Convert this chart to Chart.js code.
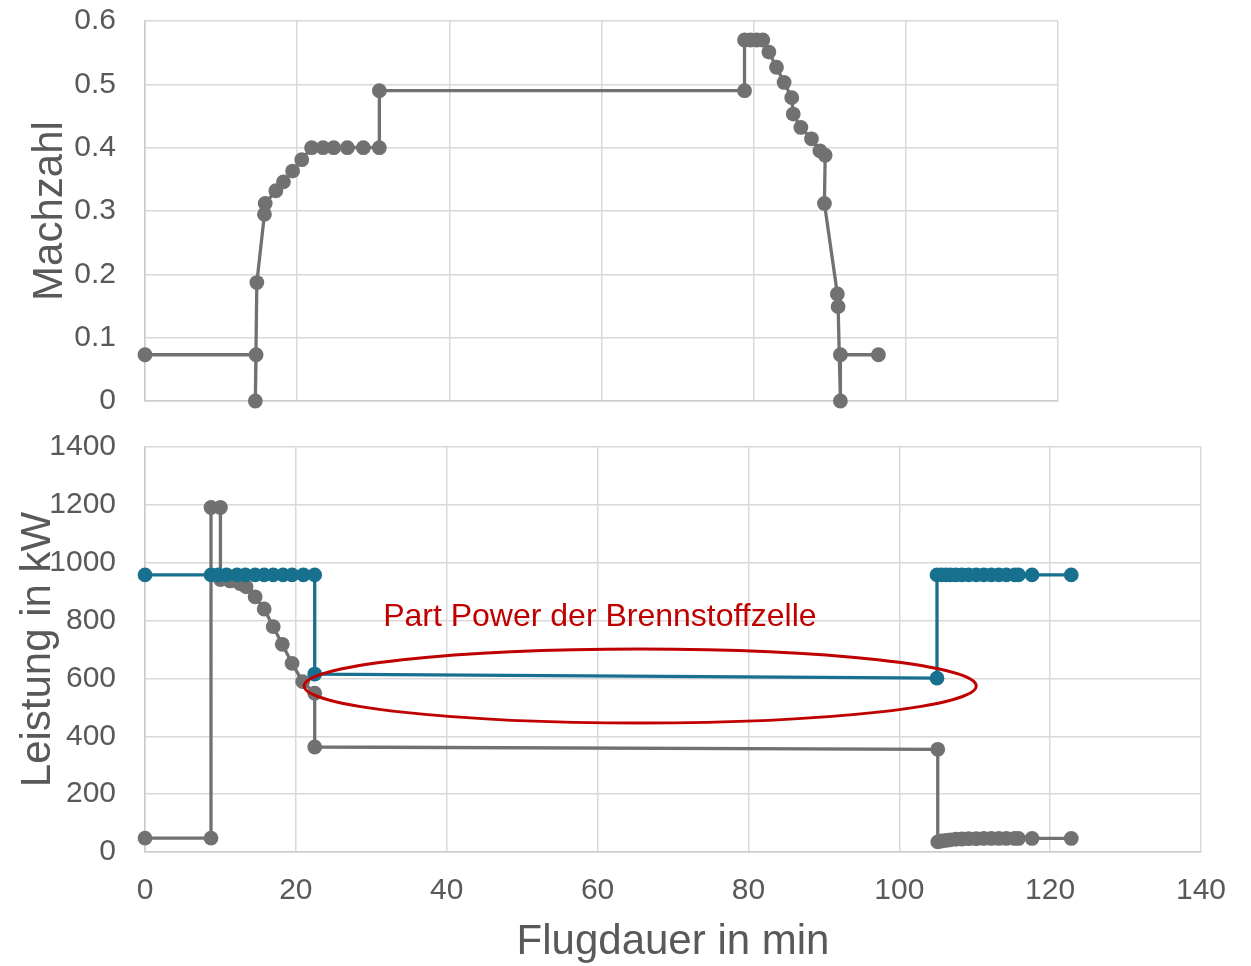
<!DOCTYPE html>
<html>
<head>
<meta charset="utf-8">
<script src="https://cdn.jsdelivr.net/npm/chart.js@4/dist/chart.umd.min.js"></script>
<style>
  html, body { margin: 0; padding: 0; background: #fff; }
  #wrap { position: relative; width: 1251px; height: 966px; overflow: hidden; }
  #wrap canvas { position: absolute; left: 0; top: 0; }
  #wrap #machChart { top: -30px; }
</style>
</head>
<body>
<div id="wrap">
  <canvas id="powerChart" width="1251" height="966"></canvas>
  <canvas id="machChart" width="1251" height="966"></canvas>
</div>
<script>
  // flight profile - mach number over time
  const machTime = [0, 14.6, 14.5, 14.7, 15.7, 15.8, 17.2, 18.2, 19.4, 20.6, 21.9, 23.4, 24.8, 26.6, 28.7, 30.8,
    30.8, 78.8, 78.8, 79.6, 80.4, 81.2, 82.0, 83.0, 84.0, 85.0, 85.2, 86.2, 87.6, 88.7, 89.4, 89.3, 91.0, 91.1,
    91.4, 91.4, 96.4];
  const machValues = [0.073, 0.073, 0, 0.187, 0.295, 0.312, 0.332, 0.346, 0.363, 0.381, 0.400, 0.400, 0.400, 0.400, 0.400, 0.400,
    0.490, 0.490, 0.570, 0.570, 0.570, 0.570, 0.551, 0.527, 0.503, 0.479, 0.453, 0.432, 0.414, 0.395, 0.388, 0.312, 0.169, 0.149,
    0, 0.073, 0.073];

  // total power demand (gray)
  const totalTime = [0, 8.75, 8.75, 10.0, 10.0, 11.3, 12.6, 13.4, 14.6, 15.8, 17.0, 18.2, 19.5, 20.9, 22.5,
    22.5, 105.1, 105.1, 105.6, 106.2, 106.8, 107.5, 108.3, 109.2, 110.2, 111.2, 112.2, 113.2, 114.2, 115.3, 115.8,
    117.6, 122.8];
  const totalPower = [48, 48, 1191, 1191, 942, 937, 928, 917, 882, 840, 779, 718, 652, 589, 549,
    363, 355, 35, 38, 40, 42, 44, 45, 46, 46, 47, 47, 47, 47, 47, 47,
    47, 47];

  // fuel cell power (blue)
  const fcTime = [0, 8.75, 9.7, 10.8, 12.2, 13.3, 14.6, 15.8, 17.0, 18.3, 19.5, 21.0, 22.5,
    22.5, 105.0, 105.0, 105.6, 106.2, 106.8, 107.5, 108.3, 109.2, 110.2, 111.2, 112.2, 113.2, 114.2, 115.3, 115.8,
    117.6, 122.8];
  const fcPower = [958, 958, 958, 958, 958, 958, 958, 958, 958, 958, 958, 958, 958,
    615, 601, 958, 958, 958, 958, 958, 958, 958, 958, 958, 958, 958, 958, 958, 958,
    958, 958];

  // tick labels
  const machTicks = [0, 0.1, 0.2, 0.3, 0.4, 0.5, 0.6];
  const powerTicks = [0, 200, 400, 600, 800, 1000, 1200, 1400];
  const machTimeTicks = [0, 20, 40, 60, 80, 100, 120];
  const powerTimeTicks = [0, 20, 40, 60, 80, 100, 120, 140];

  // annotation (data units)
  const noteText = "Part Power der Brennstoffzelle";
  const noteTextPos = [60.3, 812];
  const noteEllipseX = [21.1, 110.2];
  const noteEllipseY = [446, 702];

  const FONT = "'Liberation Sans', Arial, sans-serif";
  const TEXT_GRAY = "#595959";
  const GRID = "#d9d9d9";
  const GRAY = "#717171";
  const BLUE = "#18708f";
  const RED = "#c00000";

  function toPoints(xs, ys) {
    return xs.map((x, i) => ({ x: x, y: ys[i] }));
  }

  function fixedTicks(list) {
    return axis => {
      axis.ticks = list.map(v => ({ value: v }));
    };
  }

  function lineSet(label, xs, ys, color, order) {
    return {
      label: label,
      data: toPoints(xs, ys),
      showLine: true,
      borderColor: color,
      backgroundColor: color,
      borderWidth: 3.3,
      pointRadius: 7.4,
      pointBorderWidth: 0,
      pointBackgroundColor: color,
      clip: false,
      order: order
    };
  }

  // move the plot area to the wanted pixel rows (canvas coords)
  function pinChartArea(chart, top, bottom) {
    for (let i = 0; i < 4; i++) {
      const area = chart.chartArea;
      const dTop = top - area.top;
      const dBottom = area.bottom - bottom;
      if (Math.abs(dTop) < 0.5 && Math.abs(dBottom) < 0.5) break;
      chart.options.layout.padding.top += dTop;
      chart.options.layout.padding.bottom += dBottom;
      chart.update();
    }
  }

  const partPowerNote = {
    id: "partPowerNote",
    afterDatasetsDraw(chart) {
      const ctx = chart.ctx;
      const x = chart.scales.x;
      const y = chart.scales.y;
      const left = x.getPixelForValue(noteEllipseX[0]);
      const right = x.getPixelForValue(noteEllipseX[1]);
      const top = y.getPixelForValue(noteEllipseY[1]);
      const bottom = y.getPixelForValue(noteEllipseY[0]);

      ctx.save();
      ctx.beginPath();
      ctx.ellipse((left + right) / 2, (top + bottom) / 2, (right - left) / 2, (bottom - top) / 2, 0, 0, Math.PI * 2);
      ctx.strokeStyle = RED;
      ctx.lineWidth = 3;
      ctx.stroke();

      ctx.font = "32px " + FONT;
      ctx.fillStyle = RED;
      ctx.textAlign = "center";
      ctx.textBaseline = "middle";
      ctx.fillText(noteText, x.getPixelForValue(noteTextPos[0]), y.getPixelForValue(noteTextPos[1]));
      ctx.restore();
    }
  };

  const baseOptions = {
    responsive: false,
    animation: false,
    plugins: {
      legend: { display: false },
      tooltip: { enabled: false }
    }
  };

  // top chart - mach number (canvas sits 30px higher)
  const machChart = new Chart(document.getElementById("machChart"), {
    type: "scatter",
    data: {
      datasets: [lineSet("Machzahl", machTime, machValues, GRAY, 0)]
    },
    options: Object.assign({}, baseOptions, {
      layout: { padding: { left: 0, right: 193, top: 51, bottom: 535 } },
      scales: {
        x: {
          type: "linear",
          min: 0,
          max: 120,
          afterBuildTicks: fixedTicks(machTimeTicks),
          ticks: { display: false },
          grid: { color: GRID, lineWidth: 1.5, drawTicks: false },
          border: { color: "#cccccc", width: 1.5 },
          afterFit: axis => { axis.height = 0; }
        },
        y: {
          min: 0,
          max: 0.6,
          afterBuildTicks: fixedTicks(machTicks),
          ticks: {
            padding: 29,
            color: TEXT_GRAY,
            font: { family: FONT, size: 30 },
            callback: v => (v === 0 ? "0" : v.toFixed(1))
          },
          grid: { color: GRID, lineWidth: 1.5, drawTicks: false },
          border: { color: "#cccccc", width: 1.5 },
          title: {
            display: true,
            text: "Machzahl",
            color: TEXT_GRAY,
            font: { family: FONT, size: 42 },
            padding: { top: 25.5, bottom: 0 }
          },
          afterFit: axis => { axis.width = 145; }
        }
      }
    })
  });
  pinChartArea(machChart, 51, 431);

  // bottom chart - power
  const powerChart = new Chart(document.getElementById("powerChart"), {
    type: "scatter",
    data: {
      datasets: [
        lineSet("Brennstoffzelle", fcTime, fcPower, BLUE, 0),
        lineSet("Gesamt", totalTime, totalPower, GRAY, 1)
      ]
    },
    options: Object.assign({}, baseOptions, {
      layout: { padding: { left: 0, right: 50, top: 447, bottom: 0 } },
      scales: {
        x: {
          type: "linear",
          min: 0,
          max: 140,
          afterBuildTicks: fixedTicks(powerTimeTicks),
          ticks: {
            padding: 21,
            color: TEXT_GRAY,
            font: { family: FONT, size: 30 }
          },
          grid: { color: GRID, lineWidth: 1.5, drawTicks: false },
          border: { color: "#cccccc", width: 1.5 },
          title: {
            display: true,
            text: "Flugdauer in min",
            color: TEXT_GRAY,
            font: { family: FONT, size: 42 },
            padding: { top: 0, bottom: -2 }
          },
          afterFit: axis => { axis.height = 114; }
        },
        y: {
          min: 0,
          max: 1400,
          afterBuildTicks: fixedTicks(powerTicks),
          ticks: {
            padding: 29,
            color: TEXT_GRAY,
            font: { family: FONT, size: 30 },
            callback: v => String(v)
          },
          grid: { color: GRID, lineWidth: 1.5, drawTicks: false },
          border: { color: "#cccccc", width: 1.5 },
          title: {
            display: true,
            text: "Leistung in kW",
            color: TEXT_GRAY,
            font: { family: FONT, size: 42 },
            padding: { top: 13, bottom: 0 }
          },
          afterFit: axis => { axis.width = 145; }
        }
      }
    }),
    plugins: [partPowerNote]
  });
  pinChartArea(powerChart, 447, 852);
</script>
</body>
</html>
